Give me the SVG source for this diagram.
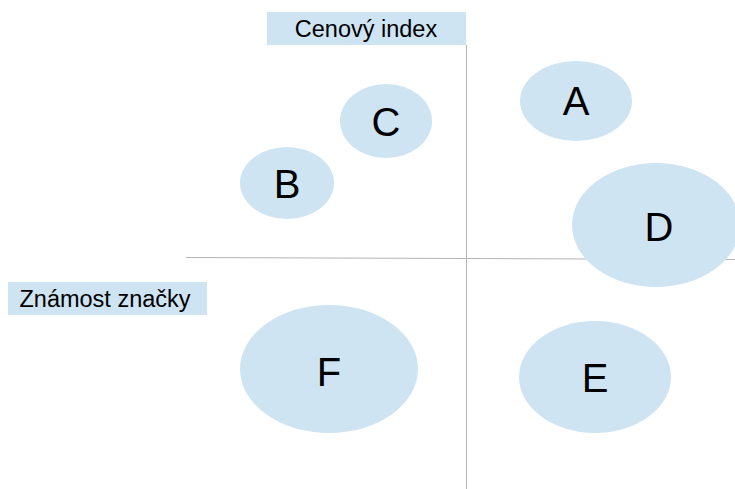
<svg xmlns="http://www.w3.org/2000/svg" width="735" height="489" viewBox="0 0 735 489">
<style>
.bub{fill:#cfe4f3}
.lbl{font-family:"Liberation Sans",Arial,sans-serif;font-size:40px;fill:#000;text-anchor:middle}
.ax{stroke:#b4b4b4;stroke-width:1;fill:none}
.axt{font-family:"Liberation Sans",Arial,sans-serif;font-size:23.5px;fill:#000;text-anchor:middle}
</style>
<rect width="735" height="489" fill="#fff"/>
<g id="axes">
<path class="ax" d="M186 257.5 L735 259.5"/>
<path class="ax" d="M466.5 45 L466.5 489"/>
</g>
<g id="label-y">
<rect x="267" y="12" width="199" height="33" class="bub"/>
<text x="366" y="37" class="axt">Cenový index</text>
</g>
<g id="label-x">
<rect x="8" y="282" width="199" height="33" class="bub"/>
<text x="105" y="307" class="axt">Známost značky</text>
</g>
<g id="A"><ellipse cx="576" cy="101" rx="56" ry="40" class="bub"/><text x="576" y="115" class="lbl">A</text></g>
<g id="C"><ellipse cx="386" cy="121" rx="46" ry="37" class="bub"/><text x="386" y="136" class="lbl">C</text></g>
<g id="B"><ellipse cx="287" cy="183" rx="47" ry="36" class="bub"/><text x="287" y="198" class="lbl">B</text></g>
<g id="D"><ellipse cx="656" cy="225" rx="84" ry="62" class="bub"/><text x="659" y="241" class="lbl">D</text></g>
<g id="F"><ellipse cx="329" cy="369" rx="89" ry="64" class="bub"/><text x="329" y="386" class="lbl">F</text></g>
<g id="E"><ellipse cx="595" cy="377" rx="76" ry="56" class="bub"/><text x="595" y="392" class="lbl">E</text></g>
</svg>
